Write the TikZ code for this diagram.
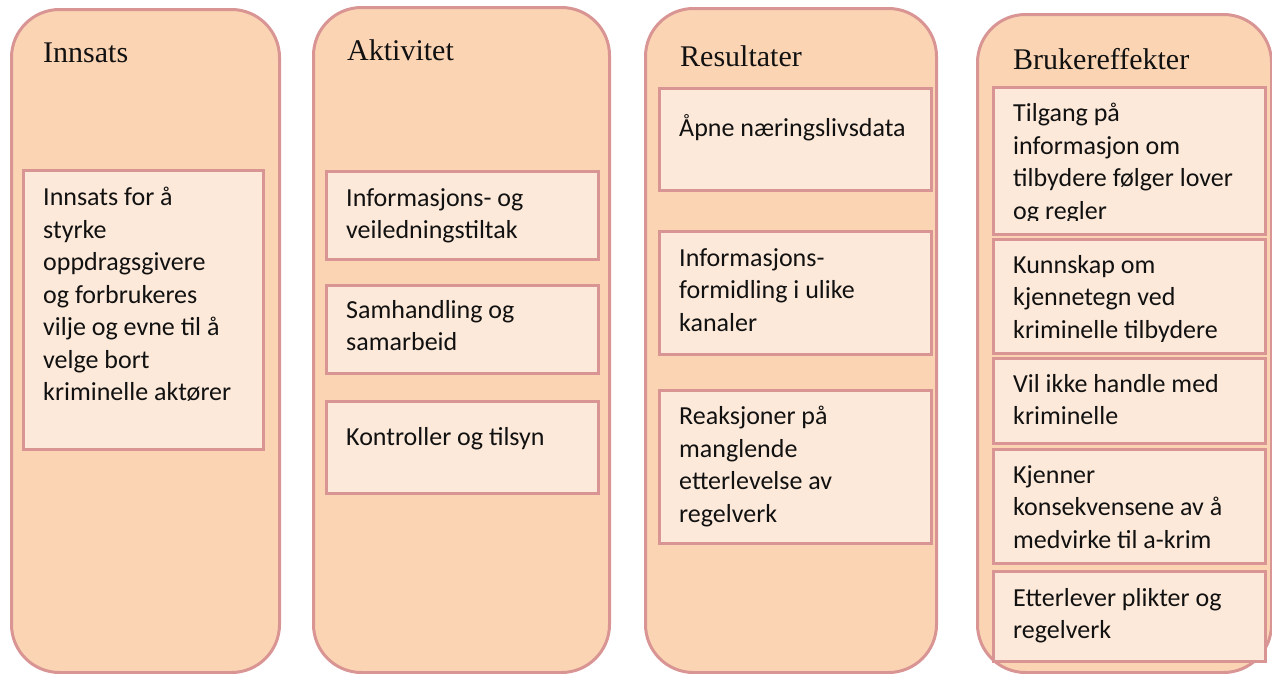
\documentclass[tikz,border=0pt]{standalone}
\usepackage{fontspec}
\setmainfont{Carlito}
\newfontfamily\headfont{Liberation Serif}
\usetikzlibrary{positioning}
\definecolor{colfill}{HTML}{FBD4B4}
\definecolor{boxfill}{HTML}{FDE9D9}
\definecolor{rim}{HTML}{D99594}
\definecolor{ink}{HTML}{111111}
\tikzstyle{column}=[draw=rim, fill=colfill, line width=3pt, rounded corners=48pt, anchor=north west, inner sep=0pt]
\tikzstyle{item}=[draw=rim, fill=boxfill, line width=3pt, anchor=north west, inner sep=0pt]
\tikzstyle{head}=[anchor=base west, inner sep=0pt, text=ink, font=\headfont\fontsize{30}{36}\selectfont]
\tikzstyle{txt}=[anchor=north west, inner sep=0pt, align=left, text=ink, font=\fontsize{26}{32.5}\selectfont, execute at begin node=\strut]
\newcommand{\drawboxes}[2][item]{
	\foreach \n/\x/\y/\w/\h in {#2}{
		\node[#1, minimum width=\w pt, minimum height=\h pt] (\n) at (\x,\y) {};
	}
}

\begin{document}
\begin{tikzpicture}[x=1pt,y=-1pt]
	\useasboundingbox (0,0) rectangle (1272,673);
	\drawboxes[column]{innsats/10/8/268/663,aktivitet/312/6/296/665,resultater/644/7/291/664,brukereffekter/976/13/294/658}
	\drawboxes{i1/22/169/240/279}
	\drawboxes{a1/325/170/272/88,a2/325/284/272/88,a3/325/400/272/92}
	\drawboxes{r1/658/87/272/102,r2/658/230/272/123,r3/658/389/272/153}
	\drawboxes{b1/992/86/272/147,b2/992/238/272/114,b3/992/357/272/85,b4/992/448/272/114,b5/992/570/272/90}
	\node[head] (hinnsats) at (43,62) {Innsats};
	\node[head] (haktivitet) at (347,60) {Aktivitet};
	\node[head] (hresultater) at (680,66) {Resultater};
	\node[head] (hbruker) at (1013,69) {Brukereffekter};
	\node[txt] (ti1) at (43,187) {Innsats for å\\styrke\\oppdragsgivere\\og forbrukeres\\vilje og evne til å\\velge bort\\kriminelle aktører};
	\node[txt] (ta1) at (346,188) {Informasjons- og\\veiledningstiltak};
	\node[txt] (ta2) at (346,300) {Samhandling og\\samarbeid};
	\node[txt] (ta3) at (346,423) {Kontroller og tilsyn};
	\node[txt] (tr1) at (679,114) {Åpne næringslivsdata};
	\node[txt] (tr2) at (679,248) {Informasjons-\\formidling i ulike\\kanaler};
	\node[txt] (tr3) at (679,406) {Reaksjoner på\\manglende\\etterlevelse av\\regelverk};
	\begin{scope}
		\clip (992,86) rectangle (1264,220);
		\node[txt] (tb1) at (1013,103) {Tilgang på\\informasjon om\\tilbydere følger lover\\og regler};
	\end{scope}
	\begin{scope}
		\clip (992,238) rectangle (1264,341);
		\node[txt] (tb2) at (1013,255) {Kunnskap om\\kjennetegn ved\\kriminelle tilbydere};
	\end{scope}
	\node[txt] (tb3) at (1013,374) {Vil ikke handle med\\kriminelle};
	\node[txt] (tb4) at (1013,465) {Kjenner\\konsekvensene av å\\medvirke til a-krim};
	\node[txt] (tb5) at (1013,588) {Etterlever plikter og\\regelverk};
\end{tikzpicture}
\end{document}
